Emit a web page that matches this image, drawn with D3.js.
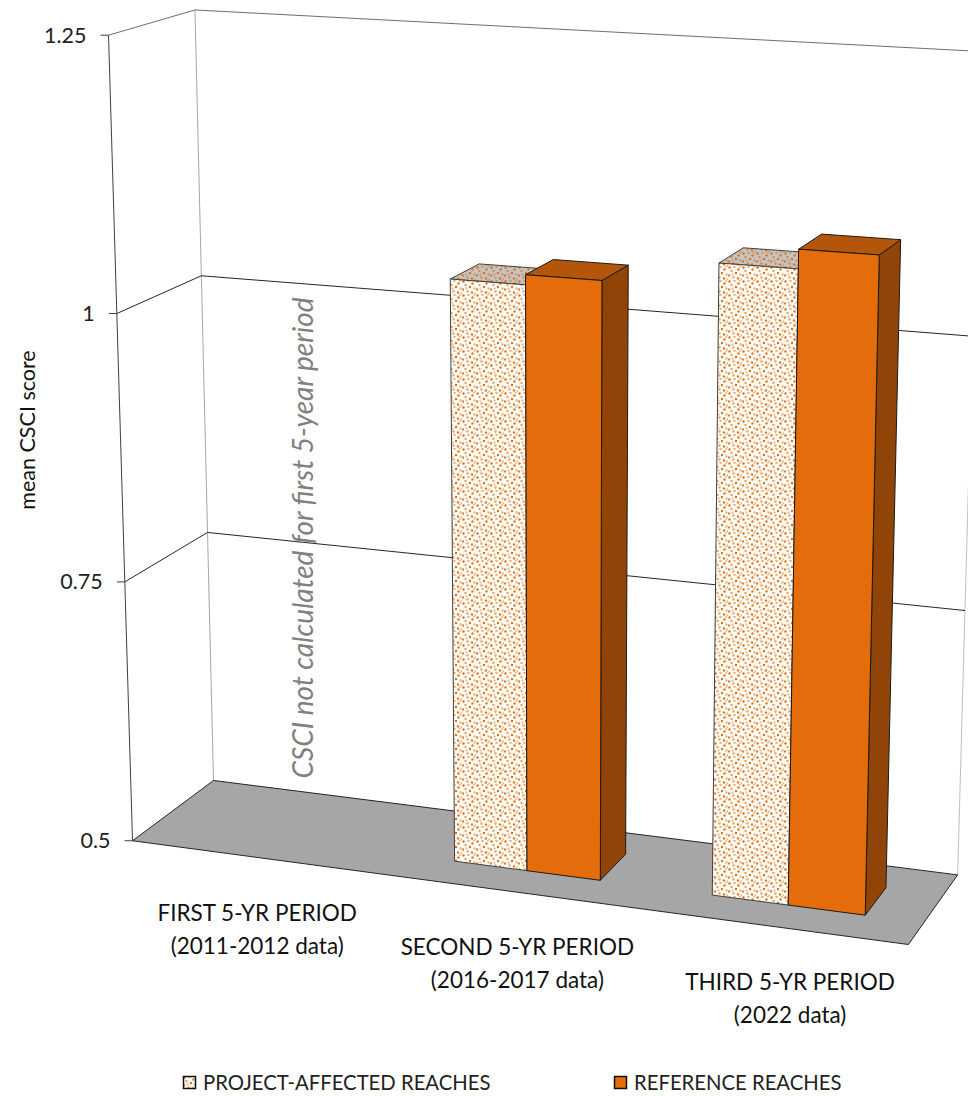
<!DOCTYPE html>
<html><head><meta charset="utf-8">
<script src="https://cdn.jsdelivr.net/npm/d3@7"></script>
<style>body{margin:0;background:#fff} svg{display:block}</style>
</head><body>
<svg id="chart" width="968" height="1096"></svg>
<script>
// ---------------- data ----------------
const categories = ["FIRST 5-YR PERIOD", "SECOND 5-YR PERIOD", "THIRD 5-YR PERIOD"];
const categorySub = ["(2011-2012 data)", "(2016-2017 data)", "(2022 data)"];
const seriesNames = ["PROJECT-AFFECTED REACHES", "REFERENCE REACHES"];
const projectAffected = [null, 1.043, 1.075];
const referenceReaches = [null, 1.052, 1.092];
const yTicks = [0.5, 0.75, 1, 1.25];
const yTickLabels = ["0.5", "0.75", "1", "1.25"];
const yDomain = [0.5, 1.25];
const yTitle = "mean CSCI score";
const annotation = "CSCI not calculated for first 5-year period";

// frame calibration: corners of the 3D plot box (unit cube) as seen on screen
const frameRefs = [
  [0, 0, 0, 133, 840], [0, 0, 1, 213, 782], [1, 0, 1, 958, 873], [1, 0, 0, 908, 946],
  [0, 1, 0, 108, 35], [0, 1, 1, 195, 10],
  [0, 1/3, 0, 125, 581], [0, 2/3, 0, 117, 314],
  [0, 2/3, 1, 202, 276], [0, 1/3, 1, 207, 532], [1, 1/3, 1, 965, 611]
];
// layout tweaks (label nudges, px)
const labelNudge = [3, 11, 19];

// ---------------- projection ----------------
function fitCamera(refs) {
  const A = [], b = [], s = 1000;
  refs.forEach(([X, Y, Z, U, V]) => {
    const u = U / s, v = V / s;
    A.push([X, Y, Z, 1, 0, 0, 0, 0, -u * X, -u * Y, -u * Z]); b.push(u);
    A.push([0, 0, 0, 0, X, Y, Z, 1, -v * X, -v * Y, -v * Z]); b.push(v);
  });
  const n = 11;
  const M = Array.from({length: n}, () => new Array(n + 1).fill(0));
  for (let r = 0; r < A.length; r++)
    for (let i = 0; i < n; i++) {
      for (let j = 0; j < n; j++) M[i][j] += A[r][i] * A[r][j];
      M[i][n] += A[r][i] * b[r];
    }
  for (let c = 0; c < n; c++) {
    let p = c;
    for (let r = c + 1; r < n; r++) if (Math.abs(M[r][c]) > Math.abs(M[p][c])) p = r;
    [M[c], M[p]] = [M[p], M[c]];
    for (let r = 0; r < n; r++) {
      if (r === c) continue;
      const f = M[r][c] / M[c][c];
      for (let k = c; k <= n; k++) M[r][k] -= f * M[c][k];
    }
  }
  const q = M.map((row, i) => row[n] / row[i]);
  return (X, Y, Z) => {
    const w = q[8] * X + q[9] * Y + q[10] * Z + 1;
    return [s * (q[0] * X + q[1] * Y + q[2] * Z + q[3]) / w, s * (q[4] * X + q[5] * Y + q[6] * Z + q[7]) / w];
  };
}
const project = fitCamera(frameRefs);

// ---------------- scales ----------------
const xBand = d3.scaleBand().domain(categories).range([0, 1]).padding(0);
const seriesBand = d3.scaleBand().domain(seriesNames).range([0, xBand.bandwidth()])
  .paddingInner(0).paddingOuter(0.75);           // Excel gap width 150%
const yScale = d3.scaleLinear().domain(yDomain).range([0, 1]);
const zScale = d3.scaleLinear().domain([0, 1]).range([0.3, 0.7]); // gap depth 150%

const svg = d3.select("#chart");
const line = d3.line();
const poly = pts => line(pts.map(p => project(...p))) + "Z";
const seg = (a, b) => line([project(...a), project(...b)]);

// pattern
const defs = svg.append("defs");
const dots = [[1.5, 1.5, 1], [6.5, 0.8, 0.6], [10.5, 3.5, 0.95], [3.5, 5, 0.65], [8, 7, 1],
              [12.5, 8.5, 0.55], [1, 9.5, 0.9], [5.5, 11.5, 0.65], [10, 12.5, 0.95], [13.5, 13.5, 0.5],
              [4.5, 8.5, 0.4], [12, 0.5, 0.45]];
function makePattern(id, bg) {
  const p = defs.append("pattern").attr("id", id).attr("patternUnits", "userSpaceOnUse")
    .attr("width", 14).attr("height", 14);
  p.append("rect").attr("width", 14).attr("height", 14).attr("fill", bg);
  p.selectAll("circle").data(dots).join("circle")
    .attr("cx", d => d[0]).attr("cy", d => d[1]).attr("r", 1.2)
    .attr("fill", "#E46C0A").attr("fill-opacity", d => d[2]);
}
makePattern("paFront", "#ffffff");
makePattern("paTop", "#C4C4C4");
makePattern("paSide", "#B0B0B0");

// ---------------- walls ----------------
const yTop = yScale(yDomain[1]);
svg.append("path").attr("d", poly([[0,0,1],[1,0,1],[1,yTop,1],[0,yTop,1]])).attr("fill", "#fff");
svg.append("path").attr("d", poly([[0,0,0],[0,0,1],[0,yTop,1],[0,yTop,0]])).attr("fill", "#fff");
svg.append("path").attr("d", seg([0,0,1],[0,yTop,1])).attr("stroke", "#A6A6A6").attr("fill", "none");
svg.append("path").attr("d", seg([1,0,1],[1,yTop,1])).attr("stroke", "#BFBFBF").attr("fill", "none");

// gridlines
yTicks.filter(t => t > yDomain[0]).forEach(t => {
  const y = yScale(t);
  const col = t === yDomain[1] ? "#6e6e6e" : "#262626";
  svg.append("path").attr("d", seg([0,y,0],[0,y,1])).attr("stroke", col).attr("stroke-width", 1).attr("fill", "none");
  svg.append("path").attr("d", seg([0,y,1],[1,y,1])).attr("stroke", col).attr("stroke-width", 1).attr("fill", "none");
});

// floor
svg.append("path").attr("d", poly([[0,0,0],[0,0,1],[1,0,1],[1,0,0]]))
  .attr("fill", "#A6A6A6").attr("stroke", "#262626").attr("stroke-width", 1);

// front-left vertical axis
svg.append("path").attr("d", seg([0,0,0],[0,yTop,0])).attr("stroke", "#404040").attr("fill", "none");
yTicks.forEach((t, i) => {
  const [x, y] = project(0, yScale(t), 0);
  svg.append("line").attr("x1", x - 8).attr("x2", x).attr("y1", y).attr("y2", y).attr("stroke", "#404040");
  svg.append("text").attr("x", x - 22).attr("y", y).attr("dy", "0.35em").attr("text-anchor", "end")
    .attr("font-family", "Lato").attr("font-size", 21.5).attr("fill", "#222").text(yTickLabels[i]);
});

// ---------------- bars ----------------
const seriesValues = [projectAffected, referenceReaches];
const styles = [
  {front: "url(#paFront)", top: "url(#paTop)", side: "url(#paSide)", stroke: "#404040"},
  {front: "#E46C0A", top: "#B3560A", side: "#904407", stroke: "#1a1a1a"}
];
const z0 = zScale(0), z1 = zScale(1), y0 = yScale(yDomain[0]);
categories.forEach((c, ci) => {
  seriesNames.forEach((s, si) => {
    const v = seriesValues[si][ci];
    if (v == null) return;
    const x0 = xBand(c) + seriesBand(s), x1 = x0 + seriesBand.bandwidth(), y1 = yScale(v);
    const st = styles[si];
    const g = svg.append("g").attr("stroke", st.stroke).attr("stroke-width", 1).attr("stroke-linejoin", "round");
    g.append("path").attr("d", poly([[x1,y0,z0],[x1,y0,z1],[x1,y1,z1],[x1,y1,z0]])).attr("fill", st.side);
    g.append("path").attr("d", poly([[x0,y1,z0],[x1,y1,z0],[x1,y1,z1],[x0,y1,z1]])).attr("fill", st.top);
    g.append("path").attr("d", poly([[x0,y0,z0],[x1,y0,z0],[x1,y1,z0],[x0,y1,z0]])).attr("fill", st.front);
  });
});

// ---------------- category labels ----------------
categories.forEach((c, ci) => {
  const [px, y] = project(xBand(c) + xBand.bandwidth() / 2, 0, 0);
  const x = px + labelNudge[ci];
  const t = svg.append("text").attr("text-anchor", "middle").attr("font-family", "Lato")
    .attr("font-size", 22.5).attr("fill", "#111");
  t.append("tspan").attr("x", x).attr("y", y + 64).text(c);
  t.append("tspan").attr("x", x).attr("y", y + 97).text(categorySub[ci]);
});

// annotation
svg.append("text").attr("transform", "translate(313,538) rotate(-90)").attr("text-anchor", "middle")
  .attr("font-family", "Lato").attr("font-style", "italic").attr("font-size", 28).attr("fill", "#808080")
  .text(annotation);

// y title
svg.append("text").attr("transform", "translate(35,430) rotate(-90)").attr("text-anchor", "middle")
  .attr("font-family", "Lato").attr("font-size", 21.5).attr("fill", "#111").text(yTitle);

// legend
const legendX = [183, 614];
seriesNames.forEach((s, si) => {
  const g = svg.append("g").attr("transform", `translate(${legendX[si]},1076)`);
  g.append("rect").attr("x", 0.5).attr("y", 0.5).attr("width", 12).attr("height", 12)
    .attr("fill", styles[si].front).attr("stroke", "#111").attr("stroke-width", 1.5);
  g.append("text").attr("x", 20).attr("y", 13.5).attr("font-family", "Lato").attr("font-size", 20.3)
    .attr("fill", "#222").text(s);
});
</script>
</body></html>
